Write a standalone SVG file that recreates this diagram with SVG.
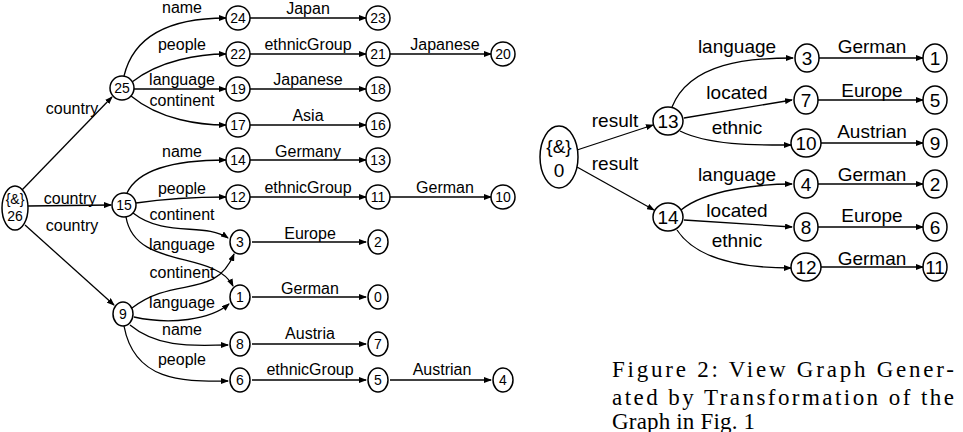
<svg xmlns="http://www.w3.org/2000/svg" width="963" height="432" viewBox="0 0 963 432">
<defs>
<marker id="a" markerWidth="8" markerHeight="6" refX="7" refY="3" orient="auto" markerUnits="userSpaceOnUse"><path d="M0,0 L8,3 L0,6 z" fill="#000"/></marker>
<style>
.n ellipse{fill:#fff;stroke:#000;stroke-width:1.5}
.n text,.l{font-family:"Liberation Sans",Arial,sans-serif;font-size:16px;text-anchor:middle}
.n text{font-size:14px}
.r .n text,.r .l{font-size:19px}
.e path{fill:none;stroke:#000;stroke-width:1.3;marker-end:url(#a)}
.cap{font-family:"Liberation Serif","DejaVu Serif",serif;font-size:23px}
</style>
</defs>
<rect width="963" height="432" fill="#fff"/>
<g id="left">
<g id="edges-left" class="e">
<path d="M22,190 L112,97"/><path d="M28,206 L111,205"/><path d="M25,225 L114,305"/>
<path d="M124,76 C135,30 180,18 226,18"/><path d="M132,82 C160,60 200,54 226,54"/><path d="M134,89 L226,89"/><path d="M131,96 C160,120 200,125 226,125"/>
<path d="M127,193 C140,165 190,160 226,160"/><path d="M136,203 C170,198 200,197 226,197"/><path d="M133,213 C165,238 205,222 228,238"/><path d="M126,217 C135,270 215,250 233,286"/>
<path d="M132,308 C175,275 215,300 234,254"/><path d="M134,317 C170,325 210,320 229,304"/><path d="M130,325 C160,350 200,345 228,345"/><path d="M124,326 C135,385 190,381 228,381"/>
<path d="M250,18 L366,18"/><path d="M250,54 L366,54"/><path d="M390,54 L491,54"/><path d="M250,89 L366,89"/><path d="M250,125 L366,125"/>
<path d="M250,160 L366,160"/><path d="M250,197 L366,197"/><path d="M390,197 L491,197"/><path d="M252,242 L366,242"/><path d="M252,297 L366,297"/>
<path d="M252,344 L366,344"/><path d="M252,380 L366,380"/><path d="M390,380 L491,380"/>
</g>
<g class="l-labels">
<text class="l" x="182" y="13">name</text><text class="l" x="308" y="14">Japan</text>
<text class="l" x="182" y="50">people</text><text class="l" x="308" y="50">ethnicGroup</text><text class="l" x="445" y="50">Japanese</text>
<text class="l" x="182" y="85">language</text><text class="l" x="308" y="85">Japanese</text><text class="l" x="182" y="106">continent</text>
<text class="l" x="308" y="121">Asia</text><text class="l" x="182" y="157">name</text><text class="l" x="308" y="157">Germany</text>
<text class="l" x="72" y="114">country</text><text class="l" x="70" y="204">country</text><text class="l" x="72" y="231">country</text>
<text class="l" x="182" y="194">people</text><text class="l" x="308" y="193">ethnicGroup</text><text class="l" x="445" y="193">German</text>
<text class="l" x="182" y="220">continent</text><text class="l" x="310" y="239">Europe</text><text class="l" x="182" y="250">language</text>
<text class="l" x="182" y="278">continent</text><text class="l" x="310" y="294">German</text><text class="l" x="182" y="308">language</text>
<text class="l" x="182" y="335">name</text><text class="l" x="310" y="339">Austria</text><text class="l" x="182" y="365">people</text>
<text class="l" x="310" y="375">ethnicGroup</text><text class="l" x="442" y="375">Austrian</text>
</g>
<g id="n26" class="n"><ellipse cx="15" cy="208" rx="13" ry="22"/><text x="15" y="204">{&amp;}</text><text x="15" y="221">26</text></g>
<g id="n25" class="n"><ellipse cx="122" cy="88" rx="12" ry="12"/><text x="122" y="93">25</text></g>
<g id="n24" class="n"><ellipse cx="238" cy="18" rx="12" ry="12"/><text x="238" y="23">24</text></g>
<g id="n23" class="n"><ellipse cx="378" cy="18" rx="12" ry="12"/><text x="378" y="23">23</text></g>
<g id="n22" class="n"><ellipse cx="238" cy="54" rx="12" ry="12"/><text x="238" y="59">22</text></g>
<g id="n21" class="n"><ellipse cx="378" cy="54" rx="12" ry="12"/><text x="378" y="59">21</text></g>
<g id="n20" class="n"><ellipse cx="503" cy="54" rx="12" ry="12"/><text x="503" y="59">20</text></g>
<g id="n19" class="n"><ellipse cx="238" cy="89" rx="12" ry="12"/><text x="238" y="94">19</text></g>
<g id="n18" class="n"><ellipse cx="378" cy="89" rx="12" ry="12"/><text x="378" y="94">18</text></g>
<g id="n17" class="n"><ellipse cx="238" cy="125" rx="12" ry="12"/><text x="238" y="130">17</text></g>
<g id="n16" class="n"><ellipse cx="378" cy="125" rx="12" ry="12"/><text x="378" y="130">16</text></g>
<g id="n15" class="n"><ellipse cx="124" cy="205" rx="12" ry="12"/><text x="124" y="210">15</text></g>
<g id="n14" class="n"><ellipse cx="238" cy="160" rx="12" ry="12"/><text x="238" y="165">14</text></g>
<g id="n13" class="n"><ellipse cx="378" cy="160" rx="12" ry="12"/><text x="378" y="165">13</text></g>
<g id="n12" class="n"><ellipse cx="238" cy="197" rx="12" ry="12"/><text x="238" y="202">12</text></g>
<g id="n11" class="n"><ellipse cx="378" cy="197" rx="12" ry="12"/><text x="378" y="202">11</text></g>
<g id="n10" class="n"><ellipse cx="503" cy="197" rx="12" ry="12"/><text x="503" y="202">10</text></g>
<g id="n3" class="n"><ellipse cx="240" cy="242" rx="10" ry="12"/><text x="240" y="247">3</text></g>
<g id="n2" class="n"><ellipse cx="378" cy="242" rx="10" ry="12"/><text x="378" y="247">2</text></g>
<g id="n1" class="n"><ellipse cx="240" cy="297" rx="10" ry="12"/><text x="240" y="302">1</text></g>
<g id="n0" class="n"><ellipse cx="378" cy="297" rx="10" ry="12"/><text x="378" y="302">0</text></g>
<g id="n9" class="n"><ellipse cx="123" cy="314" rx="10" ry="12"/><text x="123" y="319">9</text></g>
<g id="n8" class="n"><ellipse cx="240" cy="344" rx="10" ry="12"/><text x="240" y="349">8</text></g>
<g id="n7" class="n"><ellipse cx="378" cy="344" rx="10" ry="12"/><text x="378" y="349">7</text></g>
<g id="n6" class="n"><ellipse cx="240" cy="380" rx="10" ry="12"/><text x="240" y="385">6</text></g>
<g id="n5" class="n"><ellipse cx="378" cy="380" rx="10" ry="12"/><text x="378" y="385">5</text></g>
<g id="n4" class="n"><ellipse cx="503" cy="380" rx="10" ry="12"/><text x="503" y="385">4</text></g>
</g>
<g id="right" class="r">
<g id="edges-right" class="e">
<path d="M577,150 L653,125"/><path d="M577,167 L654,210"/>
<path d="M672,107 C690,62 750,58 793,58"/><path d="M684,118 L792,100"/><path d="M680,131 C710,146 760,145 791,145"/>
<path d="M681,210 C705,190 760,184 792,184"/><path d="M684,220 L792,227"/><path d="M677,230 C700,265 760,268 791,268"/>
<path d="M819,58 L923,58"/><path d="M818,100 L923,100"/><path d="M821,143 L923,143"/><path d="M818,184 L923,184"/><path d="M818,227 L923,227"/><path d="M821,267 L923,267"/>
</g>
<g>
<text class="l" x="737" y="53">language</text><text class="l" x="872" y="53">German</text>
<text class="l" x="615" y="127">result</text><text class="l" x="737" y="99">located</text><text class="l" x="872" y="97">Europe</text>
<text class="l" x="737" y="134">ethnic</text><text class="l" x="872" y="138">Austrian</text><text class="l" x="615" y="170">result</text>
<text class="l" x="737" y="181">language</text><text class="l" x="872" y="181">German</text>
<text class="l" x="737" y="217">located</text><text class="l" x="872" y="222">Europe</text>
<text class="l" x="737" y="247">ethnic</text><text class="l" x="872" y="265">German</text>
</g>
<g id="r0" class="n"><ellipse cx="559" cy="157" rx="19" ry="31"/><text x="559" y="153">{&amp;}</text><text x="559" y="177">0</text></g>
<g id="r13" class="n"><ellipse cx="668" cy="121" rx="15" ry="14"/><text x="668" y="128">13</text></g>
<g id="r14" class="n"><ellipse cx="668" cy="217" rx="15" ry="14"/><text x="668" y="224">14</text></g>
<g id="r3" class="n"><ellipse cx="807" cy="58" rx="12" ry="14"/><text x="807" y="65">3</text></g>
<g id="r1" class="n"><ellipse cx="935" cy="58" rx="12" ry="14"/><text x="935" y="65">1</text></g>
<g id="r7" class="n"><ellipse cx="806" cy="100" rx="12" ry="14"/><text x="806" y="107">7</text></g>
<g id="r5" class="n"><ellipse cx="935" cy="100" rx="12" ry="14"/><text x="935" y="107">5</text></g>
<g id="r10" class="n"><ellipse cx="806" cy="143" rx="15" ry="14"/><text x="806" y="150">10</text></g>
<g id="r9" class="n"><ellipse cx="935" cy="143" rx="12" ry="14"/><text x="935" y="150">9</text></g>
<g id="r4" class="n"><ellipse cx="806" cy="184" rx="12" ry="14"/><text x="806" y="191">4</text></g>
<g id="r2" class="n"><ellipse cx="935" cy="184" rx="12" ry="14"/><text x="935" y="191">2</text></g>
<g id="r8" class="n"><ellipse cx="806" cy="227" rx="12" ry="14"/><text x="806" y="234">8</text></g>
<g id="r6" class="n"><ellipse cx="935" cy="227" rx="12" ry="14"/><text x="935" y="234">6</text></g>
<g id="r12" class="n"><ellipse cx="806" cy="267" rx="15" ry="14"/><text x="806" y="274">12</text></g>
<g id="r11" class="n"><ellipse cx="935" cy="267" rx="12" ry="14"/><text x="935" y="274">11</text></g>
</g>
<text class="cap" x="612" y="377" textLength="342" lengthAdjust="spacing">Figure 2:  View Graph Gener-</text>
<text class="cap" x="612" y="405" textLength="342" lengthAdjust="spacing">ated by Transformation of the</text>
<text class="cap" x="612" y="429" textLength="143" lengthAdjust="spacing">Graph in Fig. 1</text>
</svg>
